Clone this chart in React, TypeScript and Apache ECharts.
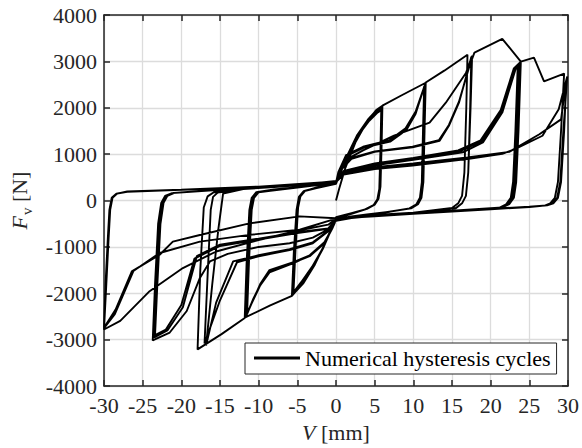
import React, { useEffect, useRef } from "react";
import * as echarts from "echarts";

// Displacement V [mm], force F_v [N], cycle by cycle
const cycle01: number[][] = [
  [0, 0], [0.4, 250], [1.2, 700], [2.5, 1250], [4.0, 1700], [5.2, 1950], [6.0, 2040],
  [5.9, 1200], [5.75, 300], [5.5, 40], [5.0, -90], [4.0, -180], [2.0, -270], [0, -360],
  [-0.6, -600], [-1.5, -950], [-2.8, -1400], [-4.2, -1780], [-5.7, -2050],
  [-5.45, -1100], [-5.1, -200], [-4.8, 80], [-4.2, 200], [-2.5, 270], [0, 360],
];
const cycle02: number[][] = [
  [0.5, 580], [1.4, 920], [2.7, 1380], [4.2, 1740], [5.3, 1930], [5.9, 1990],
  [5.8, 1100], [5.65, 250], [5.4, 30], [4.9, -100], [3.8, -190], [2.0, -280], [0, -380],
  [-0.7, -640], [-1.7, -1020], [-3.0, -1420], [-4.4, -1770], [-5.6, -2010],
  [-5.35, -1100], [-5.0, -150], [-4.7, 90], [-4.1, 210], [-2.5, 280], [0, 370],
];
const cycle03: number[][] = [
  [0.55, 590], [1.5, 940], [2.8, 1390], [4.3, 1720], [5.4, 1900], [5.85, 1950],
  [5.75, 1100], [5.6, 250], [5.35, 30], [4.85, -100], [3.7, -195], [2.0, -285], [0, -390],
  [-0.7, -650], [-1.7, -1030], [-3.1, -1430], [-4.5, -1760], [-5.5, -1980],
  [-5.25, -1100], [-4.9, -150], [-4.6, 90], [-4.0, 210], [-2.5, 285], [0, 380],
];
const cycle04: number[][] = [
  [0.5, 600], [1.4, 950], [2.7, 1400], [4.2, 1760], [5.3, 1960], [6.0, 2045], [8.5, 2270], [11.6, 2540],
  [11.45, 1500], [11.3, 400], [11.05, 60], [10.6, -80], [9.7, -170], [7.0, -240], [4.0, -300], [2.0, -340], [0, -400],
  [-0.7, -660], [-1.7, -1040], [-3.0, -1440], [-4.4, -1800], [-5.7, -2055], [-8.5, -2260], [-11.8, -2524],
  [-11.55, -1300], [-11.2, -200], [-10.9, 60], [-10.3, 180], [-8.0, 240], [-5.0, 290], [-2.5, 330], [0, 390],
];
const cycle05: number[][] = [
  [0.3, 600], [1.3, 970], [3.5, 1150], [6.9, 1290], [9.05, 1540], [10.3, 1900], [11.5, 2480],
  [11.35, 1500], [11.2, 400], [10.95, 60], [10.5, -80], [9.6, -170], [5.0, -290], [2.0, -350], [0, -410],
  [-0.5, -600], [-1.5, -900], [-3.4, -1180], [-5.5, -1330], [-8.6, -1500], [-9.8, -1800], [-10.6, -2100], [-11.6, -2480],
  [-11.35, -1300], [-11.0, -200], [-10.7, 60], [-10.1, 180], [-5.0, 280], [0, 380],
];
const cycle06: number[][] = [
  [0.35, 590], [1.4, 960], [3.6, 1140], [7.0, 1270], [9.1, 1520], [10.3, 1870], [11.4, 2450],
  [11.25, 1500], [11.1, 400], [10.85, 60], [10.4, -80], [9.5, -170], [5.0, -295], [2.0, -355], [0, -415],
  [-0.5, -610], [-1.5, -910], [-3.4, -1190], [-5.5, -1350], [-8.6, -1550], [-9.9, -1850], [-10.7, -2120], [-11.5, -2450],
  [-11.25, -1300], [-10.9, -200], [-10.6, 60], [-10.0, 180], [-5.0, 285], [0, 385],
];
const cycle07: number[][] = [
  [0.3, 610], [1.3, 980], [3.5, 1160], [6.9, 1300], [9.0, 1560], [10.3, 1920], [11.6, 2545], [14.0, 2800], [17.0, 3144],
  [16.85, 2000], [16.6, 600], [16.3, 100], [15.8, -60], [15.0, -160], [10.0, -260], [5.0, -310], [2.0, -360], [0, -420],
  [-0.5, -610], [-1.5, -920], [-3.4, -1200], [-5.5, -1340], [-8.6, -1520], [-9.8, -1830], [-10.6, -2110], [-11.8, -2530], [-14.8, -2880], [-17.9, -3209],
  [-17.55, -1500], [-17.1, -150], [-16.6, 90], [-15.8, 180], [-12.0, 250], [-8.0, 290], [-4.0, 340], [0, 400],
];
const cycle08: number[][] = [
  [0.5, 640], [1.5, 900], [3.5, 1080], [7.5, 1400], [12.1, 1680], [14.2, 2110], [16.8, 2750], [17.6, 3120],
  [17.4, 2000], [17.1, 600], [16.8, 100], [16.3, -60], [15.5, -160], [10.0, -270], [5.0, -320], [2.0, -370], [0, -430],
  [-1.0, -650], [-3.0, -900], [-6.0, -1050], [-10.0, -1180], [-13.3, -1312], [-15.5, -2200], [-16.8, -3123],
  [-16.0, -1800], [-15.2, -600], [-14.8, -100], [-14.6, 150], [-12.0, 250], [-8.0, 295], [-4.0, 350], [0, 410],
];
const cycle09: number[][] = [
  [0.6, 650], [2.0, 900], [5.0, 1050], [9.9, 1148], [13.4, 1290], [14.6, 1611], [15.9, 2110], [17.2, 2894], [17.5, 3100],
  [17.35, 2000], [17.1, 600], [16.8, 100], [16.3, -60], [15.5, -165], [10.0, -275], [5.0, -325], [2.0, -375], [0, -435],
  [-1.0, -660], [-3.0, -920], [-6.0, -1070], [-10.0, -1200], [-12.8, -1330], [-15.0, -2150], [-17.0, -3080],
  [-16.6, -1600], [-16.2, -200], [-15.9, 80], [-15.3, 170], [-12.0, 255], [-8.0, 300], [-4.0, 355], [0, 420],
];
const cycle10: number[][] = [
  [0.6, 660], [2.0, 920], [5.0, 1060], [9.9, 1160], [13.3, 1300], [14.6, 1630], [15.9, 2130], [17.3, 2920], [17.9, 3190], [21.5, 3487], [23.9, 2995],
  [23.6, 1500], [23.3, 400], [23.0, 60], [22.4, -80], [21.5, -150], [15.0, -220], [10.0, -270], [5.0, -320], [0, -400],
  [-1.0, -620], [-3.0, -800], [-6.0, -920], [-10.0, -1000], [-14.0, -1150], [-16.3, -1312], [-17.6, -1669], [-19.3, -2381], [-21.5, -2845], [-23.7, -3016],
  [-23.4, -1800], [-23.0, -500], [-22.6, -50], [-22.1, 100], [-21.2, 160], [-15.0, 230], [-10.0, 280], [-5.0, 330], [0, 400],
];
const cycle11: number[][] = [
  [1.0, 600], [5.0, 760], [10.0, 880], [16.4, 1040], [19.0, 1254], [21.5, 1896], [23.2, 2823], [23.7, 2950],
  [23.4, 1500], [23.1, 400], [22.8, 60], [22.2, -80], [21.3, -155], [15.0, -225], [10.0, -275], [5.0, -325], [0, -405],
  [-1.0, -600], [-5.0, -680], [-10.0, -820], [-15.0, -950], [-18.0, -1200], [-19.8, -2300], [-21.8, -2800], [-23.5, -2950],
  [-23.2, -1800], [-22.8, -500], [-22.4, -50], [-21.9, 100], [-21.0, 165], [-15.0, 235], [-10.0, 285], [-5.0, 335], [0, 405],
];
const cycle12: number[][] = [
  [1.0, 620], [5.0, 780], [10.0, 900], [16.0, 1060], [18.8, 1280], [21.3, 1900], [23.0, 2780], [23.5, 2900],
  [23.2, 1500], [22.9, 400], [22.6, 60], [22.0, -80], [21.1, -155], [15.0, -228], [10.0, -278], [5.0, -328], [0, -408],
  [-1.0, -610], [-5.0, -700], [-10.0, -840], [-15.0, -980], [-18.3, -1250], [-20.0, -2250], [-22.0, -2780], [-23.4, -2900],
  [-23.1, -1800], [-22.7, -500], [-22.3, -50], [-21.8, 100], [-20.9, 165], [-15.0, 235], [-10.0, 285], [-5.0, 335], [0, 405],
];
const cycle13: number[][] = [
  [1.0, 640], [5.0, 800], [10.0, 920], [15.8, 1080], [18.7, 1300], [21.3, 1950], [23.0, 2850], [23.9, 2995], [25.6, 3080], [26.9, 2567], [29.5, 2738],
  [29.1, 1500], [28.7, 400], [28.3, 60], [27.7, -60], [27.0, -110], [25.0, -130], [20.0, -180], [15.0, -230], [10.0, -280], [5.0, -330], [0, -390],
  [-1.0, -520], [-5.0, -650], [-10.0, -850], [-15.5, -1098], [-19.8, -1455], [-24.1, -1954], [-27.9, -2595], [-30.0, -2780],
  [-29.7, -1800], [-29.4, -800], [-29.2, -200], [-28.9, 60], [-28.3, 150], [-27.0, 190], [-20.0, 230], [-15.0, 260], [-10.0, 295], [-5.0, 340], [0, 400],
];
const cycle14: number[][] = [
  [1.0, 560], [5.0, 680], [9.9, 755], [17.2, 898], [21.5, 1005], [23.2, 1112], [26.7, 1397], [28.8, 1967], [29.9, 2674],
  [29.4, 1500], [29.0, 400], [28.6, 60], [28.0, -60], [27.2, -105], [25.0, -135], [20.0, -185], [15.0, -235], [10.0, -285], [5.0, -335], [0, -380],
  [-4.7, -342], [-11.2, -492], [-17.6, -742], [-21.1, -884], [-22.8, -1169], [-26.4, -1526], [-28.5, -2350], [-30.0, -2740],
  [-29.8, -1800], [-29.5, -800], [-29.3, -200], [-29.0, 60], [-28.4, 150], [-27.0, 190], [-20.0, 232], [-15.0, 262], [-10.0, 297], [-5.0, 345], [0, 405],
];
const cycle15: number[][] = [
  [1.0, 590], [5.0, 720], [10.0, 800], [17.0, 930], [22.4, 1050], [26.3, 1430], [29.1, 1750], [29.8, 2620],
  [29.5, 1500], [29.1, 400], [28.7, 60], [28.1, -60], [27.3, -105], [25.0, -138], [20.0, -188], [15.0, -238], [10.0, -288], [5.0, -338], [0, -390],
  [-4.7, -630], [-11.2, -740], [-17.6, -885], [-22.8, -1130], [-26.2, -1520], [-28.6, -2450], [-30.0, -2750],
  [-29.8, -1800], [-29.5, -800], [-29.2, -200], [-28.9, 60], [-28.3, 150], [-27.0, 195], [-20.0, 235], [-10.0, 300], [0, 410],
];

const cycles = [
  cycle01, cycle02, cycle03, cycle04, cycle05, cycle06, cycle07, cycle08,
  cycle09, cycle10, cycle11, cycle12, cycle13, cycle14, cycle15,
];

const seriesName = "Numerical hysteresis cycles";
const xName = "{i|V} [mm]";
const yName = "{i|F}{s|v} [N]";

const FONT = "Liberation Serif";

export default function App() {
  const ref = useRef<HTMLDivElement>(null);
  useEffect(() => {
    if (!ref.current) return;
    const chart = echarts.init(ref.current, null, { renderer: "svg" });
    const data = cycles.flat();
    const axisLine = { show: true, onZero: false, lineStyle: { color: "#262626", width: 1.5 } };
    const tick = { show: true, inside: true, length: 6, lineStyle: { color: "#262626", width: 1.5 } };
    chart.setOption({
      animation: false,
      backgroundColor: "#fff",
      textStyle: { fontFamily: FONT },
      grid: { left: 104, top: 15, right: 13, bottom: 59, containLabel: false },
      legend: {
        data: [{ name: seriesName, icon: "rect" }],
        left: 245,
        top: 343,
        padding: [3, 6, 4, 9],
        itemWidth: 46,
        itemHeight: 3,
        borderColor: "#262626",
        borderWidth: 1,
        borderRadius: 0,
        backgroundColor: "#fff",
        itemStyle: { color: "#000" },
        textStyle: { fontFamily: FONT, fontSize: 22, color: "#000", lineHeight: 24 },
      },
      xAxis: [
        {
          type: "value", min: -30, max: 30, interval: 5,
          position: "bottom",
          axisLine, axisTick: tick,
          axisLabel: { fontFamily: FONT, fontSize: 22, color: "#262626", margin: 8, formatter: (v: number) => String(v) },
          splitLine: { show: true, lineStyle: { color: "#dcdcdc", width: 1.3 } },
          name: xName, nameLocation: "middle", nameGap: 33,
          nameTextStyle: {
            fontFamily: FONT, fontSize: 22, color: "#262626",
            rich: { i: { fontFamily: FONT, fontSize: 22, fontStyle: "italic", color: "#262626" } },
          },
        },
        {
          type: "value", min: -30, max: 30, interval: 5,
          position: "top",
          axisLine, axisTick: tick,
          axisLabel: { show: false }, splitLine: { show: false },
        },
      ],
      yAxis: [
        {
          type: "value", min: -4000, max: 4000, interval: 1000,
          position: "left",
          axisLine, axisTick: tick,
          axisLabel: { fontFamily: FONT, fontSize: 22, color: "#262626", margin: 7, formatter: (v: number) => String(v) },
          splitLine: { show: true, lineStyle: { color: "#dcdcdc", width: 1.3 } },
          name: yName, nameLocation: "middle", nameGap: 68, nameRotate: 90,
          nameTextStyle: {
            fontFamily: FONT, fontSize: 22, color: "#262626",
            rich: {
              i: { fontFamily: FONT, fontSize: 22, fontStyle: "italic", color: "#262626" },
              s: { fontFamily: FONT, fontSize: 15, color: "#262626", padding: [16, 0, 0, 1] },
            },
          },
        },
        {
          type: "value", min: -4000, max: 4000, interval: 1000,
          position: "right",
          axisLine, axisTick: tick,
          axisLabel: { show: false }, splitLine: { show: false },
        },
      ],
      series: [
        {
          name: seriesName,
          type: "line",
          xAxisIndex: 0,
          yAxisIndex: 0,
          data,
          symbol: "none",
          showSymbol: false,
          smooth: false,
          lineStyle: { color: "#000", width: 1.9 },
          itemStyle: { color: "#000" },
          emphasis: { disabled: true },
          silent: true,
        },
      ],
    });
    return () => chart.dispose();
  }, []);
  return (
    <div
      ref={ref}
      style={{ position: "absolute", left: 0, top: 0, width: 582, height: 448, background: "#fff" }}
    />
  );
}
